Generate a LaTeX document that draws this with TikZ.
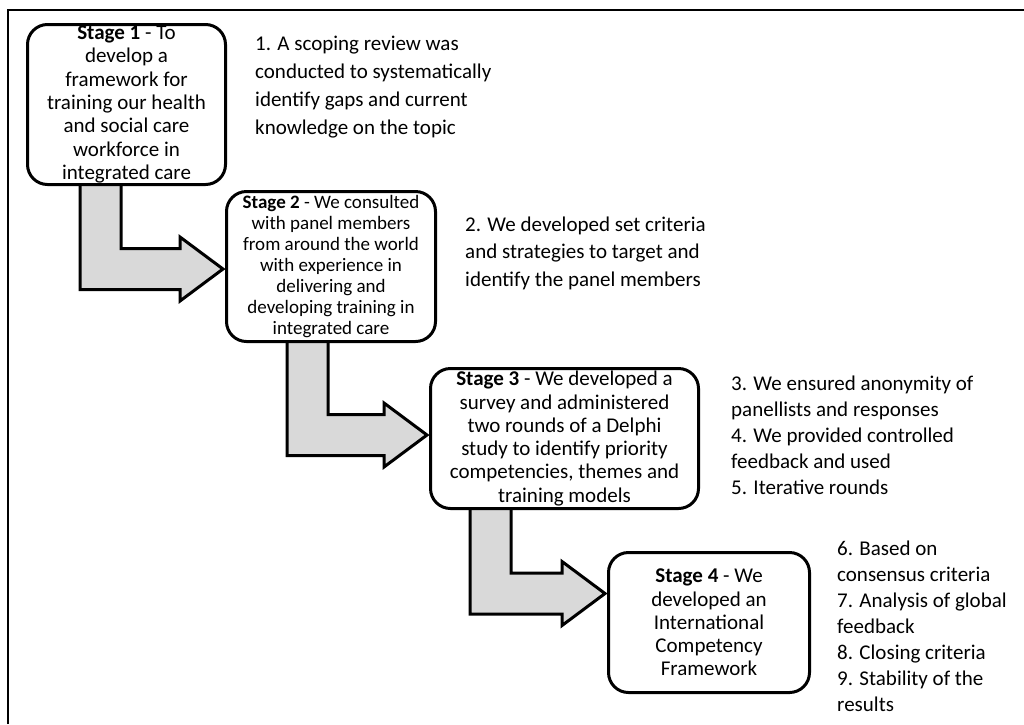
\documentclass[tikz,border=0pt]{standalone}
\usepackage{fontspec}
\setmainfont{Carlito}
\usetikzlibrary{calc}
\definecolor{arrowgray}{HTML}{D9D9D9}
\tikzset{
  stagebox/.style={draw=black, line width=3pt, rounded corners=20pt, fill=white,
    align=center, inner sep=0pt, font=\fontsize{21}{23.3}\selectfont},
  stageboxsmall/.style={stagebox, font=\fontsize{19}{21}\selectfont},
  stagearrowsty/.style={draw=black, line width=3pt, fill=arrowgray, line join=miter},
  notetext/.style={align=left, inner sep=0pt, anchor=base west}
}
\newcommand\stagearrow[4]{%
  \draw[stagearrowsty] let \p1=(#1.south west), \p2=($(#2.west)+(0,#4)$) in
    (\x1+#3,\y1+4pt) -- (\x1+#3+41pt,\y1+4pt) -- (\x1+#3+41pt,\y2+20.5pt)
    -- (\x2-45pt,\y2+20.5pt) -- (\x2-45pt,\y2+32pt) -- (\x2-2pt,\y2)
    -- (\x2-45pt,\y2-32pt) -- (\x2-45pt,\y2-20.5pt) -- (\x1+#3,\y2-20.5pt) -- cycle;}
\begin{document}
\begin{tikzpicture}[x=1pt,y=-1pt]
\useasboundingbox (0,0) rectangle (1024,724);
\fill[white] (0,0) rectangle (1024,724);
% open frame
\coordinate (fTL) at (8,10);
\coordinate (fTR) at (1024,10);
\coordinate (fBL) at (8,724);
\draw[line width=2pt] (fBL) -- (fTL) -- (fTR);

% box positions
\coordinate (c1) at (126.5,104.5);
\coordinate (c2) at (331,266.5);
\coordinate (c3) at (564.5,438.5);
\coordinate (c4) at (709,622.5);
\node[stagebox, minimum width=198pt, minimum height=160pt, opacity=0] (b1) at (c1) {\textbf{Stage 1} - To\\develop a\\framework for\\training our health\\and social care\\workforce in\\integrated care};
\node[stageboxsmall, minimum width=209pt, minimum height=150pt, opacity=0] (b2) at (c2) {\textbf{Stage 2} - We consulted\\with panel members\\from around the world\\with experience in\\delivering and\\developing training in\\integrated care};
\node[stagebox, minimum width=268pt, minimum height=140pt, opacity=0] (b3) at (c3) {\textbf{Stage 3} - We developed a\\survey and administered\\two rounds of a Delphi\\study to identify priority\\competencies, themes and\\training models};
\node[stagebox, minimum width=201pt, minimum height=140pt, opacity=0] (b4) at (c4) {\textbf{Stage 4} - We\\developed an\\International\\Competency\\Framework};

% arrows
\stagearrow{b1}{b2}{54pt}{2.5}
\stagearrow{b2}{b3}{62pt}{-3.5}
\stagearrow{b3}{b4}{41pt}{-29}

% visible boxes on top
\node[stagebox, minimum width=198pt, minimum height=160pt] at (c1) {\textbf{Stage 1} - To\\develop a\\framework for\\training our health\\and social care\\workforce in\\integrated care};
\node[stageboxsmall, minimum width=209pt, minimum height=150pt] at (c2) {\textbf{Stage 2} - We consulted\\with panel members\\from around the world\\with experience in\\delivering and\\developing training in\\integrated care};
\node[stagebox, minimum width=268pt, minimum height=140pt] at (c3) {\textbf{Stage 3} - We developed a\\survey and administered\\two rounds of a Delphi\\study to identify priority\\competencies, themes and\\training models};
\node[stagebox, minimum width=201pt, minimum height=140pt] at (c4) {\textbf{Stage 4} - We\\developed an\\International\\Competency\\Framework};

% notes (anchored at baseline of last line)
\node[notetext, font=\fontsize{21}{27.7}\selectfont] (n1) at (255,134) {1. A scoping review was\\conducted to systematically\\identify gaps and current\\knowledge on the topic};
\node[notetext, font=\fontsize{21}{27.5}\selectfont] (n2) at (465,286) {2. We developed set criteria\\and strategies to target and\\identify the panel members};
\node[notetext, font=\fontsize{21}{25.8}\selectfont] (n3) at (731,494) {3. We ensured anonymity of\\panellists and responses\\4. We provided controlled\\feedback and used\\5. Iterative rounds};
\node[notetext, font=\fontsize{21}{26}\selectfont] (n4) at (837,711) {6. Based on\\consensus criteria\\7. Analysis of global\\feedback\\8. Closing criteria\\9. Stability of the\\results};
\end{tikzpicture}
\end{document}
